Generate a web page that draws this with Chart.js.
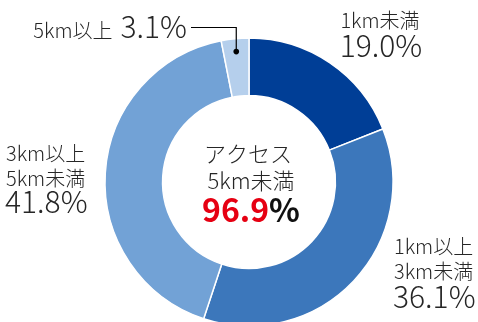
<!DOCTYPE html>
<html lang="ja">
<head>
<meta charset="utf-8">
<script src="https://cdn.jsdelivr.net/npm/chart.js@4.4.1/dist/chart.umd.min.js"></script>
<style>
  html, body { margin: 0; padding: 0; background: #fff; overflow: hidden; }
  #wrap { position: absolute; left: 0; top: 0; width: 478px; height: 340px; }
</style>
</head>
<body>
<div id="wrap"><canvas id="c" width="478" height="340"></canvas></div>
<script>
// 距離帯ごとの構成比 (%)
const categories = ['1km未満', '1km以上3km未満', '3km以上5km未満', '5km以上'];
const shares = [19.0, 36.1, 41.8, 3.1];
const sliceColors = ['#003e96', '#3c77bb', '#72a2d6', '#b5cfec'];

// 中央表示: 5km未満の合計
const centerTitle = ['アクセス', '5km未満'];
const centerValue = 96.9;

const FONT = '"Noto Sans CJK JP", "Noto Sans", sans-serif';
const TEXT = '#262626';

// 各スライスのラベル (行ごとの文字列、最終行は値)
const labelLines = [
  ['1km未満'],
  ['1km以上', '3km未満'],
  ['3km以上', '5km未満'],
  ['5km以上']
];

function fmt(v) { return v.toFixed(1) + '%'; }

const SMALL = '300 20px ' + FONT;
const LARGE = '300 30px ' + FONT;

const labelPlugin = {
  id: 'sliceLabels',
  afterDraw(chart) {
    const ctx = chart.ctx;
    const arcs = chart.getDatasetMeta(0).data;
    ctx.save();
    ctx.fillStyle = TEXT;
    ctx.textBaseline = 'alphabetic';

    // 1km未満 (右上、中央揃え)
    ctx.textAlign = 'center';
    ctx.font = SMALL;
    ctx.fillText(labelLines[0][0], 380, 28);
    ctx.font = LARGE;
    ctx.fillText(fmt(shares[0]), 381, 57);

    // 1km以上3km未満 (右下、左揃え)
    ctx.textAlign = 'left';
    ctx.font = SMALL;
    ctx.fillText(labelLines[1][0], 394, 254);
    ctx.fillText(labelLines[1][1], 394, 279);
    ctx.font = LARGE;
    ctx.fillText(fmt(shares[1]), 393, 308);

    // 3km以上5km未満 (左、左揃え)
    ctx.font = SMALL;
    ctx.fillText(labelLines[2][0], 6, 161);
    ctx.fillText(labelLines[2][1], 6, 186);
    ctx.font = LARGE;
    ctx.fillText(fmt(shares[2]), 5, 213);

    // 5km以上 (左上、引き出し線つき)
    ctx.textAlign = 'right';
    ctx.font = LARGE;
    ctx.fillText(fmt(shares[3]), 187, 38);
    const wVal = ctx.measureText(fmt(shares[3])).width;
    ctx.font = SMALL;
    ctx.fillText(labelLines[3][0], 187 - wVal - 8, 38);

    const a = arcs[3];
    const mid = (a.startAngle + a.endAngle) / 2;
    const r = a.outerRadius - 13;
    const px = a.x + Math.cos(mid) * r;
    const py = a.y + Math.sin(mid) * r;
    ctx.strokeStyle = '#000';
    ctx.lineWidth = 1.2;
    ctx.beginPath();
    ctx.moveTo(191, 27.5);
    ctx.lineTo(px, 27.5);
    ctx.lineTo(px, py);
    ctx.stroke();
    ctx.fillStyle = '#000';
    ctx.beginPath();
    ctx.arc(px, py, 2.8, 0, Math.PI * 2);
    ctx.fill();

    // 中央テキスト
    const cx = arcs[0].x;
    ctx.fillStyle = TEXT;
    ctx.textAlign = 'center';
    ctx.font = '300 22px ' + FONT;
    ctx.fillText(centerTitle[0], cx - 1, 162);
    ctx.fillText(centerTitle[1], cx + 2, 189);

    ctx.font = 'bold 32px ' + FONT;
    const num = centerValue.toFixed(1);
    const wNum = ctx.measureText(num).width;
    const wPct = ctx.measureText('%').width;
    const x0 = cx + 2 - (wNum + wPct) / 2;
    ctx.textAlign = 'left';
    ctx.fillStyle = '#e60012';
    ctx.fillText(num, x0, 222);
    ctx.fillStyle = '#111';
    ctx.fillText('%', x0 + wNum, 222);
    ctx.restore();
  }
};

new Chart(document.getElementById('c'), {
  type: 'doughnut',
  data: {
    labels: categories,
    datasets: [{
      data: shares,
      backgroundColor: sliceColors,
      borderColor: '#ffffff',
      borderWidth: 1.5,
      radius: 144,
      cutout: 86
    }]
  },
  options: {
    responsive: false,
    devicePixelRatio: 1,
    animation: false,
    rotation: 0,
    layout: { padding: { top: 38, left: 105, right: 85, bottom: 14 } },
    plugins: {
      legend: { display: false },
      tooltip: { enabled: false },
      title: { display: false }
    }
  },
  plugins: [labelPlugin]
});
</script>
</body>
</html>
